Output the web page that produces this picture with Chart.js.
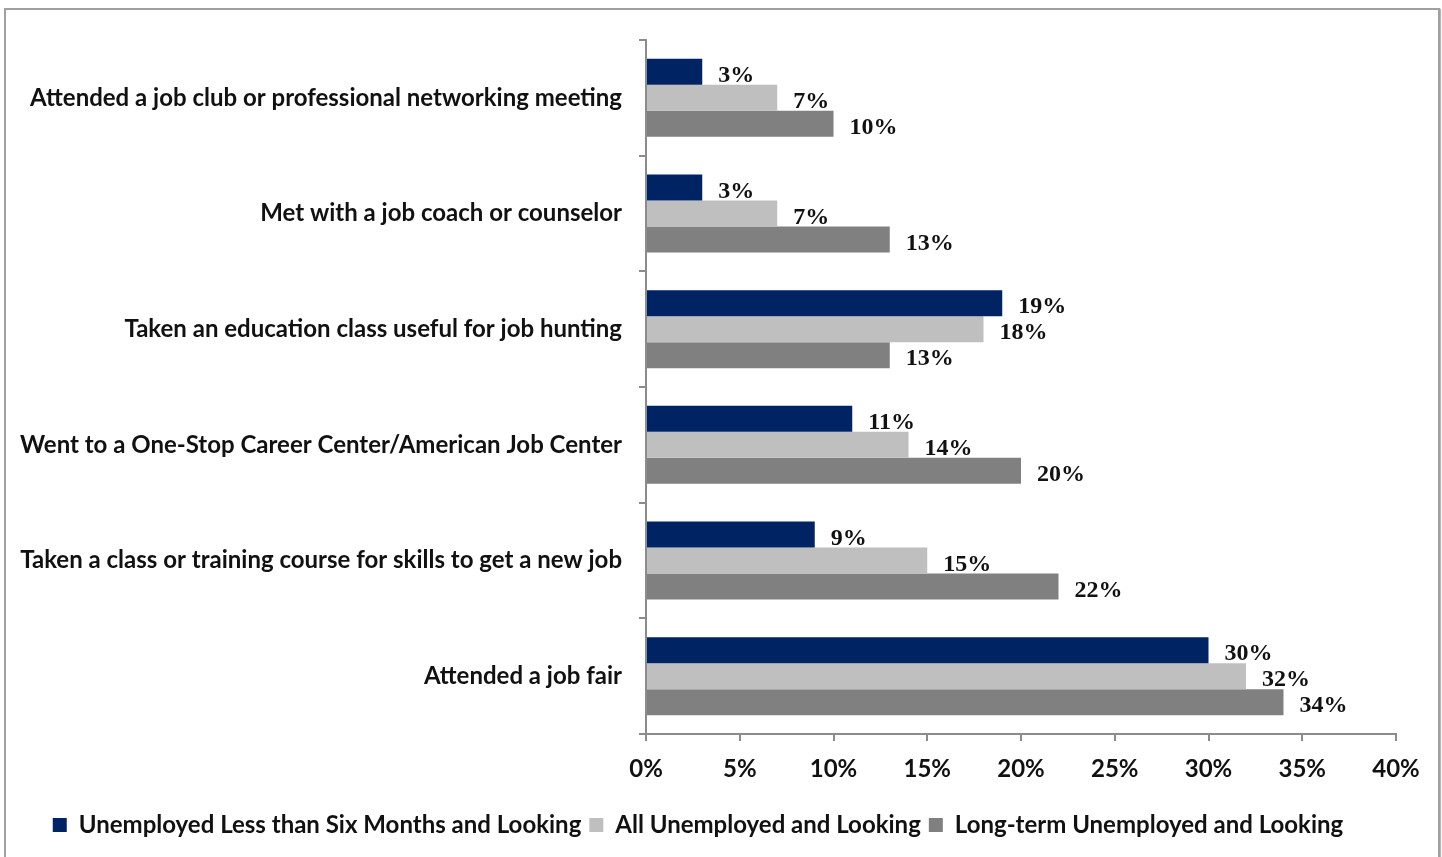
<!DOCTYPE html>
<html>
<head>
<meta charset="utf-8">
<script src="https://cdn.jsdelivr.net/npm/chart.js@4.4.1/dist/chart.umd.min.js"></script>
<style>
  html, body { margin: 0; padding: 0; background: #fff; overflow: hidden; }
  #wrap { position: relative; width: 1442px; height: 857px; }
  #frame {
    position: absolute; left: 4px; top: 8px; width: 1432px; height: 900px;
    border: 2px solid #a0a0a0; box-shadow: 1px 1px 1px #b8b8b8;
  }
  #chart { position: absolute; left: 0; top: 0; }
</style>
</head>
<body>
<div id="wrap">
  <div id="frame"></div>
  <canvas id="chart" width="1442" height="857"></canvas>
</div>
<script>
// Actividades de búsqueda de empleo por grupo de desempleados (%)
const categories = [
    'Attended a job club or professional networking meeting',
    'Met with a job coach or counselor',
    'Taken an education class useful for job hunting',
    'Went to a One-Stop Career Center/American Job Center',
    'Taken a class or training course for skills to get a new job',
    'Attended a job fair'
];
const seriesNames = [
    'Unemployed Less than Six Months and Looking',
    'All Unemployed and Looking',
    'Long-term Unemployed and Looking'
];
const shortTerm = [3, 3, 19, 11, 9, 30];
const allUnemployed = [7, 7, 18, 14, 15, 32];
const longTerm = [10, 13, 13, 20, 22, 34];
const xTicks = [0, 5, 10, 15, 20, 25, 30, 35, 40];

const colors = ['#002463', '#bfbfbf', '#808080'];
const sansFont = "Lato, 'Open Sans', sans-serif";
const serifFont = "'Liberation Serif', 'DejaVu Serif', serif";

// Etiquetas de valor a la derecha de cada barra
const valueLabels = {
    id: 'valueLabels',
    afterDatasetsDraw(chart) {
        const ctx = chart.ctx;
        ctx.save();
        ctx.font = 'bold 24px ' + serifFont;
        ctx.fillStyle = '#111';
        ctx.textAlign = 'left';
        ctx.textBaseline = 'middle';
        chart.data.datasets.forEach((ds, i) => {
            chart.getDatasetMeta(i).data.forEach((bar, j) => {
                ctx.fillText(ds.data[j] + '%', bar.x + 16, bar.y + 4);
            });
        });
        ctx.restore();
    }
};

const ctx = document.getElementById('chart').getContext('2d');
const jobChart = new Chart(ctx, {
    type: 'bar',
    data: {
        labels: categories,
        datasets: [shortTerm, allUnemployed, longTerm].map((values, i) => ({
            label: seriesNames[i],
            data: values,
            backgroundColor: colors[i],
            borderWidth: 0,
            categoryPercentage: 0.675,
            barPercentage: 1.0
        }))
    },
    options: {
        indexAxis: 'y',
        responsive: false,
        animation: false,
        layout: { padding: { top: 40, right: 46, left: 0, bottom: 10 } },
        scales: {
            x: {
                min: 0,
                max: 40,
                afterBuildTicks: (scale) => { scale.ticks = xTicks.map(v => ({ value: v })); },
                afterFit: (scale) => { scale.height = 71; },
                border: { color: '#8c8c8c', width: 2 },
                grid: { drawOnChartArea: false, drawTicks: true, tickLength: 7, color: '#8c8c8c', lineWidth: 2 },
                ticks: {
                    callback: (v) => v + '%',
                    color: '#111',
                    padding: 14,
                    maxRotation: 0,
                    font: { family: sansFont, size: 24, weight: 'bold' }
                }
            },
            y: {
                afterFit: (scale) => { scale.width = 646; },
                border: { color: '#8c8c8c', width: 2 },
                grid: { drawOnChartArea: false, drawTicks: true, tickLength: 7, color: '#8c8c8c', lineWidth: 2, offset: true },
                ticks: {
                    color: '#111',
                    padding: 17,
                    autoSkip: false,
                    font: { family: sansFont, size: 24, weight: 'bold' }
                }
            }
        },
        plugins: {
            legend: {
                position: 'bottom',
                labels: {
                    boxWidth: 14,
                    boxHeight: 14,
                    padding: 8,
                    color: '#111',
                    font: { family: sansFont, size: 24, weight: 'bold' }
                }
            },
            tooltip: { enabled: false }
        }
    },
    plugins: [valueLabels]
});
</script>
</body>
</html>
